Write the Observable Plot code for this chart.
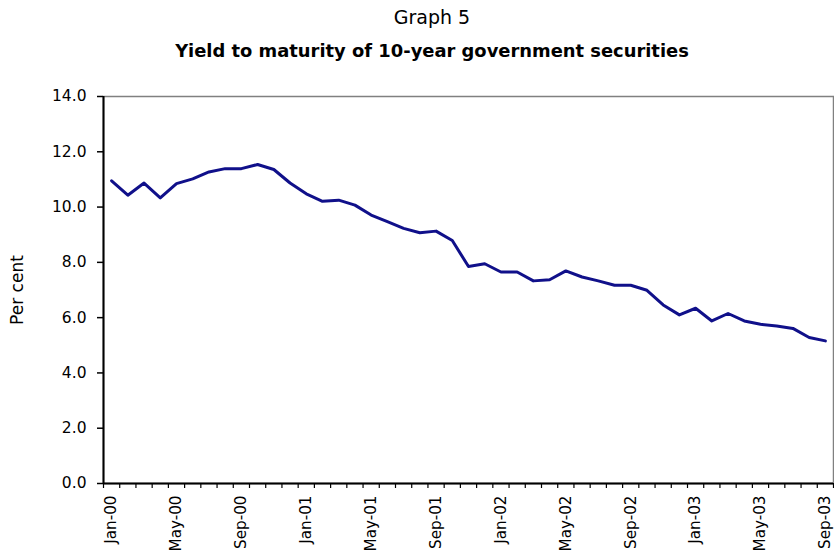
<!DOCTYPE html>
<html>
<head>
<meta charset="utf-8">
<script src="https://cdn.jsdelivr.net/npm/d3@7"></script>
<script src="https://cdn.jsdelivr.net/npm/@observablehq/plot@0.6"></script>
<style>
  html, body { margin: 0; padding: 0; background: #fff; }
  #wrap { position: relative; width: 834px; height: 555px; font-family: "DejaVu Sans", sans-serif; }
  .t1 { position: absolute; left: 0; width: 864px; top: 6px; text-align: center; font-size: 19px; color: #000; }
  .t2 { position: absolute; left: 0; width: 864px; top: 40px; text-align: center; font-size: 17.9px; font-weight: bold; color: #000; }
  svg { position: absolute; left: 0; top: 0; }
</style>
</head>
<body>
<div id="wrap">
  <div class="t1">Graph 5</div>
  <div class="t2">Yield to maturity of 10-year government securities</div>
</div>
<script>
const months = [
  "Jan-00","Feb-00","Mar-00","Apr-00","May-00","Jun-00","Jul-00","Aug-00","Sep-00","Oct-00","Nov-00","Dec-00",
  "Jan-01","Feb-01","Mar-01","Apr-01","May-01","Jun-01","Jul-01","Aug-01","Sep-01","Oct-01","Nov-01","Dec-01",
  "Jan-02","Feb-02","Mar-02","Apr-02","May-02","Jun-02","Jul-02","Aug-02","Sep-02","Oct-02","Nov-02","Dec-02",
  "Jan-03","Feb-03","Mar-03","Apr-03","May-03","Jun-03","Jul-03","Aug-03","Sep-03"
];
const yields = [
  10.95,10.43,10.87,10.33,10.85,11.02,11.27,11.39,11.39,11.54,11.36,10.87,
  10.48,10.21,10.25,10.07,9.71,9.47,9.23,9.07,9.13,8.79,7.85,7.95,
  7.65,7.65,7.33,7.37,7.69,7.47,7.33,7.17,7.17,6.99,6.46,6.10,
  6.34,5.88,6.15,5.88,5.76,5.70,5.61,5.28,5.16
];
const yTicks = [0, 2, 4, 6, 8, 10, 12, 14];
const labelEvery = 4;

const data = months.map((m, i) => ({i, month: m, value: yields[i]}));
const labelIdx = data.filter(d => d.i % labelEvery === 0).map(d => d.i);
const boundaries = d3.range(months.length + 1).map(k => k - 0.5);

const chart = Plot.plot({
  width: 834,
  height: 555,
  marginLeft: 103,
  marginRight: 1,
  marginTop: 96,
  marginBottom: 72,
  style: {fontFamily: "DejaVu Sans, sans-serif", fontSize: "16px", color: "#000", background: "transparent"},
  x: {type: "linear", domain: [-0.5, months.length - 0.5]},
  y: {domain: [0, 14]},
  marks: [
    Plot.frame({stroke: "#808080", strokeWidth: 1.5}),
    Plot.axisY({ticks: yTicks, tickFormat: d => d.toFixed(1), tickSize: 6, tickPadding: 11, strokeWidth: 1.5, fontSize: 15.5, label: null}),
    Plot.axisY({ticks: [], label: "Per cent", labelAnchor: "center", labelArrow: "none", labelOffset: 93, fontSize: 17}),
    Plot.axisX({ticks: boundaries, tickFormat: () => "", tickSize: 5, strokeWidth: 1.2, label: null}),
    Plot.axisX({ticks: labelIdx, tickFormat: i => months[i], tickSize: 0, tickPadding: 12, tickRotate: -90, fontSize: 15.2, label: null}),
    Plot.ruleX([-0.5], {stroke: "#000", strokeWidth: 2}),
    Plot.ruleY([0], {stroke: "#000", strokeWidth: 2}),
    Plot.line(data, {x: "i", y: "value", stroke: "#10108a", strokeWidth: 3, strokeLinejoin: "round"})
  ]
});
document.getElementById("wrap").appendChild(chart);
</script>
</body>
</html>
